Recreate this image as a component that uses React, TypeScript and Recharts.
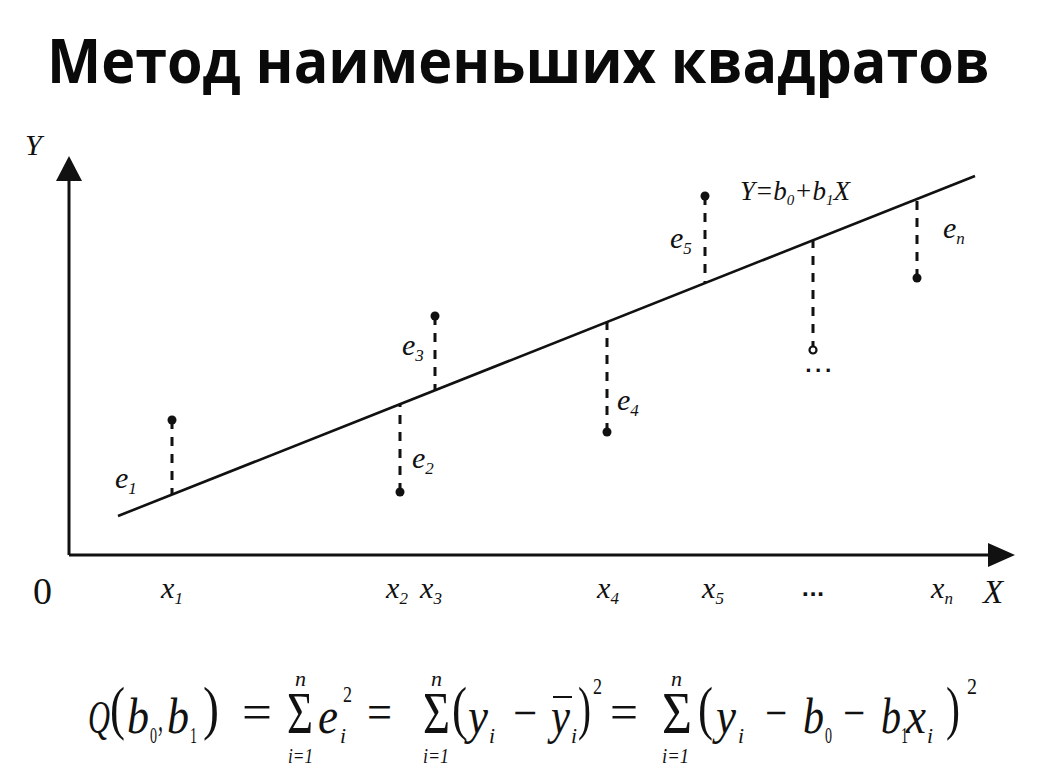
import { ComposedChart, ReferenceDot, ReferenceLine, Scatter, XAxis, YAxis } from "recharts";

// observations (x_i, y_i) and the value of the fitted line under each of them
const pointX = [10.3, 33.1, 36.6, 53.8, 63.6, 74.4, 84.8];
const pointY = [13.5, 6.3, 23.9, 12.3, 35.9, 20.5, 27.7];
const fittedY = [6.1, 15.1, 16.5, 23.3, 27.2, 31.4, 35.6];
const hollowIndex = 5;

// ends of the regression line Y = b0 + b1 X
const lineX = [4.9, 90.6];
const lineY = [3.9, 37.9];

// tick labels under the X axis
const tickPos = [10.3, 32.8, 36.2, 53.9, 64.4, 74.4, 87.3];
const tickSubs = ["1", "2", "3", "4", "5", "...", "n"];

// residual labels e_i
const residualSubs = ["1", "2", "3", "4", "5", "n"];

const X_MAX = 94.6;
const Y_MAX = 39.9;

const serif = "'Liberation Serif', 'DejaVu Serif', serif";

// where the e_i labels sit (left edge / baseline, in chart units)
const residualSpots = [
  { x: 4.6, y: 6.7 },
  { x: 34.3, y: 8.7 },
  { x: 33.3, y: 20.0 },
  { x: 54.8, y: 14.5 },
  { x: 60.1, y: 30.7 },
  { x: 87.4, y: 31.7 },
];

const filled = pointX
  .map((x, i) => ({ x, y: pointY[i] }))
  .filter((_, i) => i !== hollowIndex);
const hollow = [{ x: pointX[hollowIndex], y: pointY[hollowIndex] }];

const XTick = (props: any) => {
  const { x, y, payload } = props;
  const i = tickPos.indexOf(payload.value);
  const sub = tickSubs[i];
  if (sub === "...") {
    return (
      <text x={x} y={y + 33} textAnchor="middle" fontFamily="'DejaVu Sans', sans-serif" fontWeight={700} fontSize={20} fill="#111">
        ...
      </text>
    );
  }
  return (
    <text x={x} y={y + 35} textAnchor="middle" fontFamily={serif} fontStyle="italic" fontSize={30} fill="#111">
      x<tspan fontSize={17} dy={6}>{sub}</tspan>
    </text>
  );
};

const dot = (p: any) => <circle cx={p.cx} cy={p.cy} r={4.5} fill="#111" />;
const ring = (p: any) => <circle cx={p.cx} cy={p.cy} r={3.5} fill="#fff" stroke="#111" strokeWidth={2.2} />;

const arrowRight = (p: any) => (
  <polygon points={`${p.cx},${p.cy} ${p.cx - 27},${p.cy - 12} ${p.cx - 27},${p.cy + 12}`} fill="#111" />
);
const arrowUp = (p: any) => (
  <polygon points={`${p.cx},${p.cy} ${p.cx - 13},${p.cy + 25} ${p.cx + 13},${p.cy + 25}`} fill="#111" />
);

const label = (body: any, size: number, italic = true) => (p: any) => (
  <text x={p.cx} y={p.cy} fontFamily={serif} fontStyle={italic ? "italic" : "normal"} fontSize={size} fill="#111">
    {body}
  </text>
);

// formula pieces: [left, right, baseline, text, size, italic]
const B = 733;
const SUB = 743;
const SUP = 694;
const formula: [number, number, number, string, number, boolean][] = [
  [88, 110, B, "Q", 46, true],
  [110, 125, 728, "(", 60, false],
  [127, 149, B, "b", 50, true],
  [150, 157, SUB, "0", 24, false],
  [158, 163, B - 2, ",", 36, true],
  [167, 189, B, "b", 50, true],
  [190, 197, SUB, "1", 24, false],
  [203, 219, 728, ")", 60, false],
  [242, 272, B - 4, "=", 50, false],
  [287, 313, B, "Σ", 60, false],
  [295, 306, 686, "n", 22, true],
  [288, 313, 763, "i=1", 21, true],
  [318, 338, B, "e", 50, true],
  [340, 346, SUB, "i", 22, true],
  [343, 352, 702, "2", 24, false],
  [367, 392, B - 4, "=", 50, false],
  [423, 450, B, "Σ", 60, false],
  [431, 442, 686, "n", 22, true],
  [423, 449, 763, "i=1", 21, true],
  [452, 467, 728, "(", 60, false],
  [468, 488, B, "y", 50, true],
  [489, 495, SUB, "i", 22, true],
  [513, 537, B - 4, "−", 48, false],
  [551, 570, B, "y", 50, true],
  [571, 577, SUB, "i", 22, true],
  [578, 591, 728, ")", 60, false],
  [593, 602, SUP, "2", 24, false],
  [610, 638, B - 4, "=", 50, false],
  [662, 692, B, "Σ", 60, false],
  [671, 682, 686, "n", 22, true],
  [662, 689, 763, "i=1", 21, true],
  [698, 713, 728, "(", 60, false],
  [716, 736, B, "y", 50, true],
  [738, 744, SUB, "i", 22, true],
  [765, 787, B - 4, "−", 48, false],
  [803, 824, B, "b", 50, true],
  [825, 832, SUB, "0", 24, false],
  [843, 865, B - 4, "−", 48, false],
  [881, 901, B, "b", 50, true],
  [901, 908, SUB, "1", 24, false],
  [906, 926, B, "x", 50, true],
  [927, 933, SUB, "i", 22, true],
  [946, 960, 728, ")", 60, false],
  [967, 977, SUP, "2", 24, false],
];

export default function App() {
  return (
    <div style={{ position: "absolute", left: 0, top: 0, width: 1052, height: 774, background: "#fff" }}>
      <ComposedChart width={1052} height={774} margin={{ top: 156, right: 37, bottom: 159, left: 69 }}>
        <XAxis
          type="number"
          dataKey="x"
          domain={[0, X_MAX]}
          ticks={tickPos}
          interval={0}
          tick={<XTick />}
          axisLine={false}
          tickLine={false}
          height={60}
          allowDataOverflow
        />
        <YAxis type="number" dataKey="y" domain={[0, Y_MAX]} hide allowDataOverflow />

        {/* axes with arrows */}
        <ReferenceLine segment={[{ x: 0, y: 0 }, { x: X_MAX - 2.4, y: 0 }]} stroke="#111" strokeWidth={3} ifOverflow="visible" />
        <ReferenceLine segment={[{ x: 0, y: 0 }, { x: 0, y: Y_MAX - 2.3 }]} stroke="#111" strokeWidth={3} ifOverflow="visible" />
        <ReferenceDot x={X_MAX} y={0} shape={arrowRight} ifOverflow="visible" />
        <ReferenceDot x={0} y={Y_MAX} shape={arrowUp} ifOverflow="visible" />

        {/* regression line */}
        <ReferenceLine
          segment={[{ x: lineX[0], y: lineY[0] }, { x: lineX[1], y: lineY[1] }]}
          stroke="#111"
          strokeWidth={2.6}
        />

        {/* residuals */}
        {pointX.map((x, i) => (
          <ReferenceLine
            key={i}
            segment={[{ x, y: pointY[i] }, { x, y: fittedY[i] }]}
            stroke="#111"
            strokeWidth={3}
            strokeDasharray="9 8"
          />
        ))}

        <Scatter data={filled} shape={dot} isAnimationActive={false} />
        <Scatter data={hollow} shape={ring} isAnimationActive={false} />

        {residualSpots.map((s, i) => (
          <ReferenceDot
            key={"e" + i}
            x={s.x}
            y={s.y}
            ifOverflow="visible"
            shape={label(
              <>
                e<tspan fontSize={17} dy={6}>{residualSubs[i]}</tspan>
              </>,
              30,
            )}
          />
        ))}

        <ReferenceDot
          x={67.1}
          y={35.5}
          ifOverflow="visible"
          shape={label(
            <>
              Y=b<tspan fontSize={15} dy={5}>0</tspan>
              <tspan dy={-5}>+b</tspan>
              <tspan fontSize={15} dy={5}>1</tspan>
              <tspan dy={-5}>X</tspan>
            </>,
            27,
          )}
        />
        <ReferenceDot
          x={73.6}
          y={18.3}
          ifOverflow="visible"
          shape={(p: any) => (
            <text x={p.cx} y={p.cy} fontFamily="'DejaVu Sans', sans-serif" fontWeight={700} fontSize={18} letterSpacing={3} fill="#111">
              ...
            </text>
          )}
        />
        <ReferenceDot x={-4.4} y={40} ifOverflow="visible" shape={label("Y", 30)} />
        <ReferenceDot x={-3.6} y={-4.9} ifOverflow="visible" shape={label("0", 38, false)} />
        <ReferenceDot x={91.4} y={-4.8} ifOverflow="visible" shape={label("X", 33)} />
      </ComposedChart>

      <svg width={1052} height={774} style={{ position: "absolute", left: 0, top: 0, pointerEvents: "none" }}>
        <text x={47} y={83} textLength={943} lengthAdjust="spacingAndGlyphs" fontFamily="'Open Sans', sans-serif" fontWeight={700} fontSize={60} fill="#0a0a0a">
          Метод наименьших квадратов
        </text>
        {formula.map(([l, r, y, t, size, italic], i) => (
          <text
            key={i}
            x={l}
            y={y}
            textLength={r - l}
            lengthAdjust="spacingAndGlyphs"
            fontFamily={serif}
            fontStyle={italic ? "italic" : "normal"}
            fontSize={size}
            fill="#111"
          >
            {t}
          </text>
        ))}
        <line x1={553} x2={572} y1={697} y2={697} stroke="#111" strokeWidth={2} />
      </svg>
    </div>
  );
}
